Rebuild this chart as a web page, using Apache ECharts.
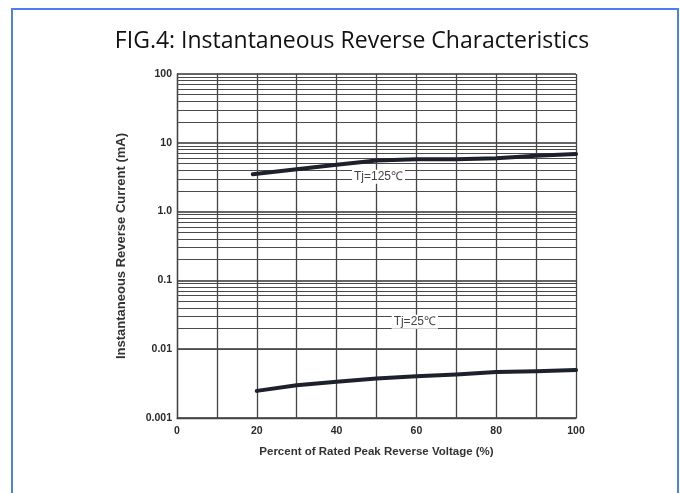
<!DOCTYPE html>
<html><head><meta charset="utf-8">
<script src="https://cdn.jsdelivr.net/npm/echarts@6/dist/echarts.min.js"></script>
<style>
html,body{margin:0;padding:0;background:#fff;}
#c{width:680px;height:493px;}
#frame{position:absolute;left:11px;top:8px;width:668px;height:500px;border:2px solid #4d7ff2;border-bottom:none;box-sizing:border-box;pointer-events:none;}
</style></head>
<body>
<div id="frame"></div>
<div id="c"></div>
<script>
var xTicks = [0,10,20,30,40,50,60,70,80,90,100];
var yTickLabels = {'100':'100','10':'10','1':'1.0','0.1':'0.1','0.01':'0.01','0.001':'0.001'};
var volt125 = [19,30,40,50,60,70,80,90,100];
var curr125 = [3.50,4.14,4.78,5.52,5.79,5.79,5.98,6.47,6.85];
var volt25 = [20,30,40,50,60,70,80,90,100];
var curr25 = [0.00248,0.00300,0.00336,0.00376,0.00403,0.00430,0.00465,0.00480,0.00497];
var decades = [0.001,0.01,0.1,1,10];
var minorSteps = [2,3,4,5,6,7,8,9];
var label125 = {text:'Tj=125℃', x:50.5, y:3.2};
var label25 = {text:'Tj=25℃', x:59.6, y:0.0251};

var gridLines = [];
decades.forEach(function(d){ minorSteps.forEach(function(m){ gridLines.push({yAxis: +(d*m).toPrecision(3)}); }); });

function pairs(xs, ys){ return xs.map(function(v,i){ return [v, ys[i]]; }); }

var chart = echarts.init(document.getElementById('c'));
var lblStyle = {show:true, color:'#444', fontSize:12, fontFamily:'Liberation Sans, Arial', backgroundColor:'#fff', padding:[1,2]};
chart.setOption({
  animation:false,
  title:{text:'FIG.4: Instantaneous Reverse Characteristics', left:347, textAlign:'center', top:25,
    textStyle:{fontFamily:'Open Sans', fontWeight:'normal', fontSize:23, color:'#111'}},
  grid:{left:177, right:104, top:74, bottom:75},
  xAxis:{type:'value', min:0, max:100, interval:10,
    name:'Percent of Rated Peak Reverse Voltage (%)', nameLocation:'middle', nameGap:28,
    nameTextStyle:{fontFamily:'Liberation Sans, Arial', fontWeight:'bold', fontSize:11.5, color:'#333'},
    axisLine:{show:true, lineStyle:{color:'#444', width:1.3}}, axisTick:{show:false},
    axisLabel:{fontFamily:'Liberation Sans, Arial', fontWeight:'bold', fontSize:10.5, color:'#2a2a2a', margin:8,
      formatter:function(v){ return v % 20 === 0 ? String(v) : ''; }},
    splitLine:{show:true, lineStyle:{color:'#444', width:1.3}}},
  yAxis:{type:'log', logBase:10, min:0.001, max:100,
    name:'Instantaneous Reverse Current (mA)', nameLocation:'middle', nameGap:49, nameRotate:90,
    nameTextStyle:{fontFamily:'Liberation Sans, Arial', fontWeight:'bold', fontSize:13, color:'#333'},
    axisLine:{show:true, lineStyle:{color:'#444', width:1.3}}, axisTick:{show:false},
    axisLabel:{fontFamily:'Liberation Sans, Arial', fontWeight:'bold', fontSize:10.5, color:'#2a2a2a', margin:5,
      formatter:function(v){ var k = String(+v.toPrecision(3)); return yTickLabels[k] !== undefined ? yTickLabels[k] : k; }},
    splitLine:{show:true, lineStyle:{color:'#333', width:1.5}}},
  series:[
    {type:'line', data:pairs(volt125, curr125), symbol:'none', smooth:false, z:5,
      lineStyle:{color:'#1c212b', width:4, cap:'round', join:'round'},
      markLine:{silent:true, symbol:'none', label:{show:false}, z:1,
        lineStyle:{color:'#4a4a4a', width:1.1, type:'solid'}, data:gridLines},
      markPoint:{symbol:'circle', symbolSize:0, z:6,
        data:[{coord:[label125.x, label125.y], label:Object.assign({formatter:label125.text, position:'inside'}, lblStyle)}]}},
    {type:'line', data:pairs(volt25, curr25), symbol:'none', smooth:false, z:5,
      lineStyle:{color:'#1c212b', width:4, cap:'round', join:'round'},
      markPoint:{symbol:'circle', symbolSize:0, z:6,
        data:[{coord:[label25.x, label25.y], label:Object.assign({formatter:label25.text, position:'inside'}, lblStyle)}]}}
  ]
});
</script>
</body></html>
